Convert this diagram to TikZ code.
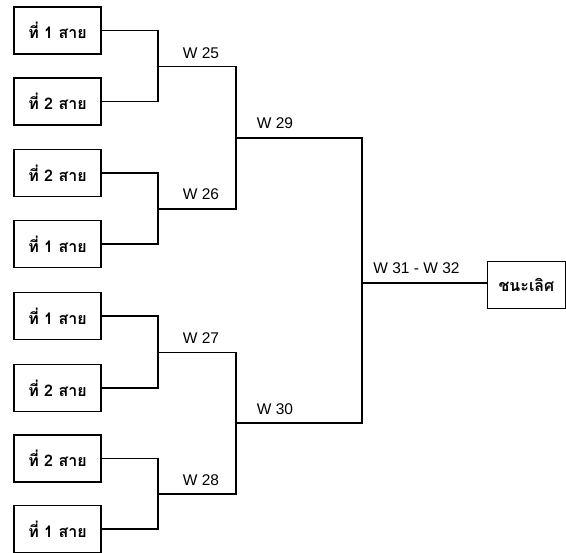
\documentclass[tikz,border=0pt]{standalone}
\usepackage{fontspec}
\setmainfont{Liberation Sans}
\newfontfamily\thaifont[Script=Thai]{Loma}
\begin{document}
\begin{tikzpicture}[x=1pt,y=-1pt,
  team/.style={draw=black,line width=1.4pt,minimum width=87pt,minimum height=47pt,inner sep=0pt,font=\thaifont\bfseries\fontsize{16}{18}\selectfont},
  final/.style={draw=black,line width=1.4pt,minimum width=78pt,minimum height=47pt,inner sep=0pt,font=\thaifont\bfseries\fontsize{16}{18}\selectfont},
  wire/.style={draw=black,line width=1.2pt},
  lab/.style={font=\fontsize{15.5}{17}\selectfont,inner sep=0pt,anchor=base}]
\useasboundingbox (0,0) rectangle (566,553);
\node[team] (b1) at (57.5,30.5) {ที่ 1 สาย\hspace{4pt}};
\node[team] (b2) at (57.5,101.5) {ที่ 2 สาย\hspace{4pt}};
\node[team] (b3) at (57.5,173) {ที่ 2 สาย\hspace{4pt}};
\node[team] (b4) at (57.5,244) {ที่ 1 สาย\hspace{4pt}};
\node[team] (b5) at (57.5,316) {ที่ 1 สาย\hspace{4pt}};
\node[team] (b6) at (57.5,388) {ที่ 2 สาย\hspace{4pt}};
\node[team] (b7) at (57.5,458.5) {ที่ 2 สาย\hspace{4pt}};
\node[team] (b8) at (57.5,529) {ที่ 1 สาย\hspace{4pt}};
\node[final] (fin) at (526.5,285) {ชนะเลิศ};
\coordinate (m25) at (158,66.5);
\coordinate (m26) at (158,209);
\coordinate (m27) at (158,352.5);
\coordinate (m28) at (158,494);
\coordinate (m29) at (236,138);
\coordinate (m30) at (236,423);
\coordinate (m31) at (362,283);
\draw[wire] (b1.east) -| (m25) |- (b2.east);
\draw[wire] (b3.east) -| (m26) |- (b4.east);
\draw[wire] (b5.east) -| (m27) |- (b6.east);
\draw[wire] (b7.east) -| (m28) |- (b8.east);
\draw[wire] (m25) -| (m29) |- (m26);
\draw[wire] (m27) -| (m30) |- (m28);
\draw[wire] (m29) -| (m31) |- (m30);
\draw[wire] (m31) -- (m31 -| fin.west);
\node[lab] (l25) at (201,59) {W 25};
\node[lab] (l26) at (201,200) {W 26};
\node[lab] (l27) at (201,344) {W 27};
\node[lab] (l28) at (201,486) {W 28};
\node[lab] (l29) at (275,129) {W 29};
\node[lab] (l30) at (275,415) {W 30};
\node[lab] (l31) at (416.5,274) {W 31 - W 32};
\end{tikzpicture}
\end{document}
